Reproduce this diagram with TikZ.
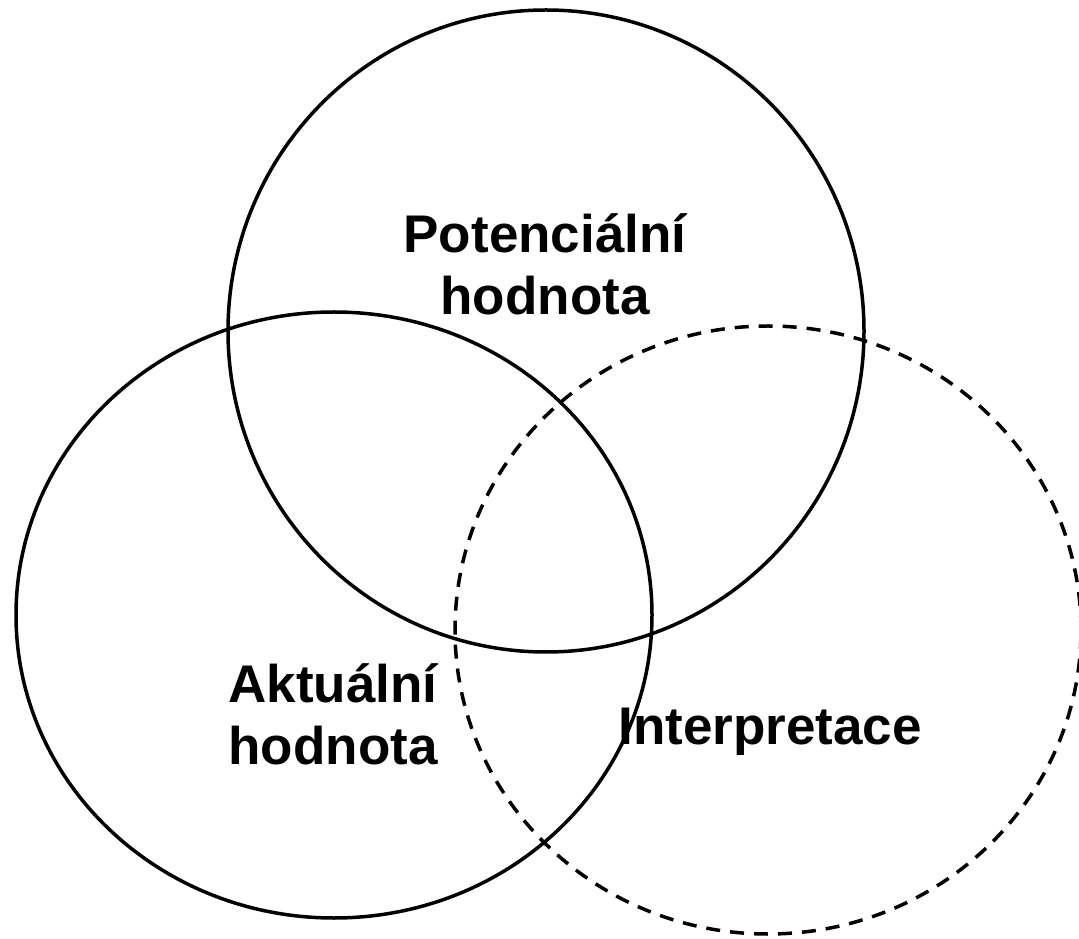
\documentclass[tikz,border=0pt]{standalone}
\usepackage{fontspec}
\setmainfont{Liberation Sans}
\begin{document}
\begin{tikzpicture}[x=1pt,y=1pt,
  ring/.style={line width=3.5pt},
  dashring/.style={line width=3.5pt, dash pattern=on 14pt off 10pt},
  lbl/.style={font=\fontsize{53}{62}\selectfont\bfseries, align=center, inner sep=0pt}]
\useasboundingbox (0,0) rectangle (1079,938);
\draw[ring] (546,607) ellipse [x radius=318, y radius=321];
\draw[ring] (334,323) ellipse [x radius=318, y radius=303];
\draw[dashring] (768,308) ellipse [x radius=313, y radius=304];
\node[lbl] (pot) at (545,674) {Potenciální\\hodnota};
\node[lbl] (akt) at (333,224) {Aktuální\\hodnota};
\node[lbl] (int) at (770,206) {Interpretace};
\end{tikzpicture}
\end{document}
